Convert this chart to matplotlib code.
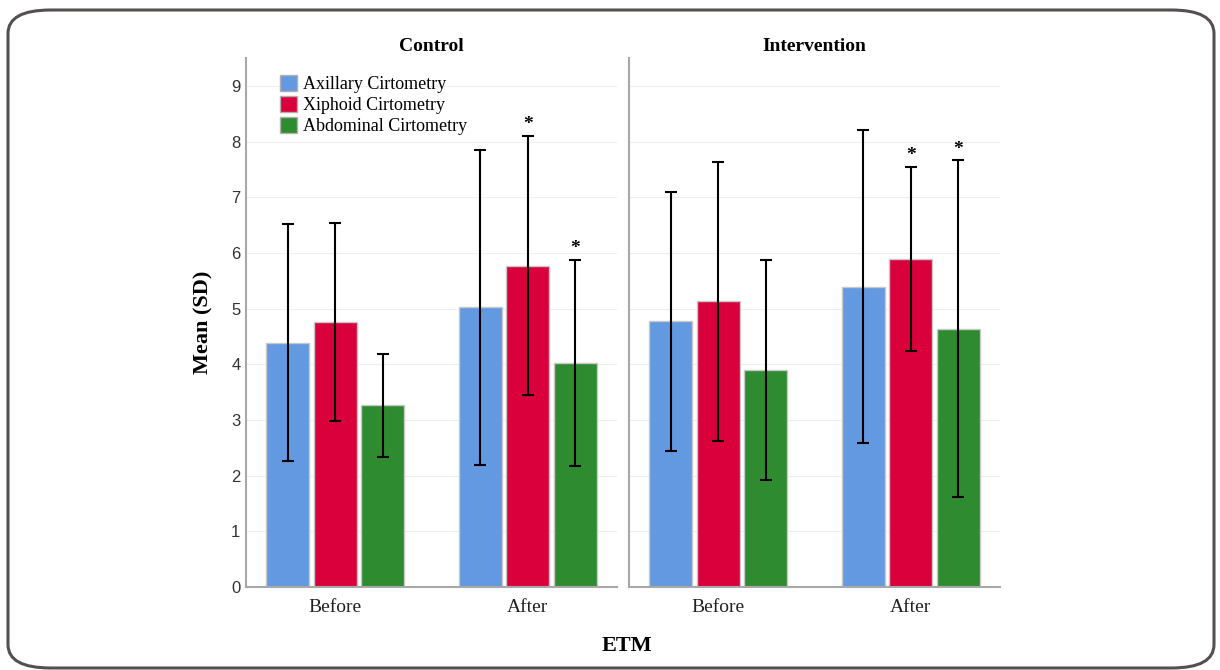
import matplotlib
matplotlib.use("Agg")
import matplotlib.pyplot as plt
import numpy as np
from matplotlib.patches import FancyBboxPatch, Patch

# ── Data ──────────────────────────────────────────────────────────────────────
panels = ["Control", "Intervention"]
timepoints = ["Before", "After"]
series = ["Axillary Cirtometry", "Xiphoid Cirtometry", "Abdominal Cirtometry"]

# means[series][timepoint]
control_means = [[4.39, 5.02], [4.76, 5.77], [3.26, 4.02]]
control_sd = [[2.13, 2.83], [1.77, 2.33], [0.93, 1.85]]
control_star = [[False, False], [False, True], [False, True]]

interv_means = [[4.77, 5.39], [5.13, 5.89], [3.90, 4.64]]
interv_sd = [[2.33, 2.81], [2.50, 1.66], [1.97, 3.02]]
interv_star = [[False, False], [False, True], [False, True]]

y_ticks = list(range(0, 10))

# ── Style ─────────────────────────────────────────────────────────────────────
COLORS = ["#6399E0", "#D9003C", "#2E8B30"]
SERIF = ["Liberation Serif", "DejaVu Serif"]
SPINE = "#a8a8a8"

fig = plt.figure(figsize=(12.2, 6.7), dpi=100)

# rounded outer frame
frame = FancyBboxPatch((8 / 1220, 1 - 668 / 670), 1206 / 1220, 658 / 670,
                       boxstyle="round,pad=0,rounding_size=0.035",
                       transform=fig.transFigure, fill=False,
                       edgecolor="#555050", linewidth=2.2, clip_on=False)
fig.patches.append(frame)

ax_bottom = 1 - 587 / 670
ax_height = (587 - 58) / 670
ax_l = fig.add_axes([246 / 1220, ax_bottom, 371 / 1220, ax_height])
ax_r = fig.add_axes([629 / 1220, ax_bottom, 371 / 1220, ax_height])

step = 0.247
width = 0.223
x = np.arange(len(timepoints))

for ax, title, means, sds, stars in [
    (ax_l, panels[0], control_means, control_sd, control_star),
    (ax_r, panels[1], interv_means, interv_sd, interv_star),
]:
    for i, name in enumerate(series):
        xs = x + (i - 1) * step
        ax.bar(xs, means[i], width=width, color=COLORS[i], edgecolor="#c8c8c8",
               linewidth=1.0, zorder=2, label=name)
        ax.errorbar(xs, means[i], yerr=sds[i], fmt="none", ecolor="black",
                    elinewidth=1.5, capsize=4.5, capthick=1.5, zorder=3)
        for j in range(len(timepoints)):
            if stars[i][j]:
                ax.annotate("*", (xs[j], means[i][j] + sds[i][j]),
                            xytext=(0, 2), textcoords="offset points",
                            ha="center", va="bottom", fontsize=14,
                            fontweight="bold", family=SERIF)

    ax.set_xlim(-0.465, 1.465)
    ax.set_ylim(0, 9.5)
    ax.set_yticks(y_ticks)
    ax.grid(axis="y", color="#efefef", linewidth=0.8, zorder=0)
    ax.set_axisbelow(True)
    ax.set_xticks(x)
    ax.set_xticklabels(timepoints, family=SERIF, fontsize=14, color="#222222")
    ax.tick_params(length=0)
    ax.tick_params(axis="x", pad=9)
    for s in ["top", "right"]:
        ax.spines[s].set_visible(False)
    for s in ["left", "bottom"]:
        ax.spines[s].set_color(SPINE)
        ax.spines[s].set_linewidth(1.5)
    ax.set_title(title, family=SERIF, fontsize=14, fontweight="bold", pad=5)

ax_l.set_yticklabels([str(t) for t in y_ticks], family="Liberation Sans",
                     fontsize=12, color="#333333")
ax_l.tick_params(axis="y", pad=4)
ax_r.set_yticklabels([])

handles = [Patch(facecolor=c, edgecolor="#b0b0b0", linewidth=1.0) for c in COLORS]
ax_l.legend(handles, series, loc="upper left", bbox_to_anchor=(0.066, 0.985),
            frameon=False, borderpad=0, handlelength=0.95, handleheight=0.95,
            handletextpad=0.35, labelspacing=0.18,
            prop={"family": SERIF, "size": 13})

fig.text(203 / 1220, 1 - 322 / 670, "Mean (SD)", rotation=90, ha="center",
         va="center", family=SERIF, fontsize=16, fontweight="bold")
fig.text(627 / 1220, 1 - 646 / 670, "ETM", ha="center", va="center",
         family=SERIF, fontsize=16, fontweight="bold")

fig.savefig("out.png", dpi=100, facecolor="white")
